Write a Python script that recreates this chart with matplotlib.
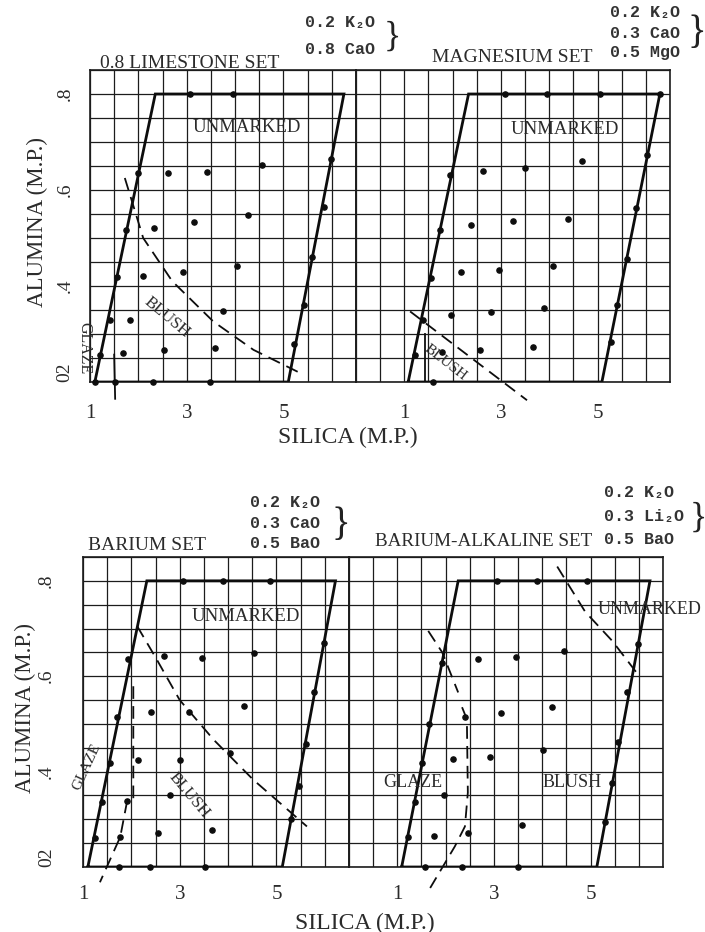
import matplotlib
matplotlib.use("Agg")
import matplotlib.pyplot as plt
import numpy as np

# axis ticks (silica / alumina, molecular parts)
silica_ticks = [1, 3, 5]
silica_labels = ["1", "3", "5"]
alumina_ticks = [0.2, 0.4, 0.6, 0.8]
alumina_labels = ["02", ".4", ".6", ".8"]

# 0.8 limestone set
lime_trap_x = [1.1, 2.35, 6.25, 5.1, 1.1]
lime_trap_y = [0.2, 0.8, 0.8, 0.2, 0.2]
lime_dots_x = [3.07, 3.96, 1.99, 1.75, 1.56, 1.41, 1.2, 1.1,
               2.62, 3.41, 4.55, 2.33, 3.16, 4.26, 2.09, 2.92, 4.04,
               1.83, 3.75, 1.69, 2.52, 3.59, 1.52, 2.31, 3.48,
               5.99, 5.83, 5.6, 5.42, 5.22]
lime_dots_y = [0.8, 0.8, 0.636, 0.516, 0.418, 0.33, 0.256, 0.2,
               0.636, 0.638, 0.653, 0.52, 0.533, 0.547, 0.421, 0.43, 0.442,
               0.33, 0.347, 0.26, 0.267, 0.27, 0.2, 0.2, 0.2,
               0.665, 0.565, 0.46, 0.36, 0.28]
lime_blush_x = [1.72, 2.1, 2.7, 3.55, 4.38, 5.42]
lime_blush_y = [0.625, 0.5, 0.41, 0.326, 0.267, 0.215]
lime_glaze_x = [1.5, 1.52]
lime_glaze_y = [0.257, 0.165]

# magnesium set
mag_trap_x = [1.08, 2.33, 6.29, 5.09, 1.08]
mag_trap_y = [0.2, 0.8, 0.8, 0.2, 0.2]
mag_dots_x = [3.08, 3.95, 5.05, 6.29, 1.95, 1.74, 1.55, 1.39, 1.22,
              2.63, 3.5, 4.68, 2.38, 3.25, 4.39, 2.17, 2.96, 4.08,
              1.97, 2.8, 3.89, 1.78, 2.57, 3.66, 1.6,
              6.03, 5.8, 5.6, 5.4, 5.27]
mag_dots_y = [0.8, 0.8, 0.8, 0.8, 0.632, 0.516, 0.417, 0.33, 0.256,
              0.64, 0.646, 0.66, 0.527, 0.535, 0.54, 0.43, 0.434, 0.442,
              0.34, 0.345, 0.354, 0.263, 0.266, 0.272, 0.2,
              0.672, 0.562, 0.457, 0.36, 0.284]
mag_blush_x = [1.12, 3.54]
mag_blush_y = [0.347, 0.162]
mag_glaze_x = [1.43, 1.43]
mag_glaze_y = [0.3, 0.2]

# barium set
bar_trap_x = [1.1, 2.32, 6.22, 5.12, 1.1]
bar_trap_y = [0.2, 0.8, 0.8, 0.2, 0.2]
bar_dots_x = [3.07, 3.9, 4.87, 1.93, 1.7, 1.56, 1.39, 1.25,
              2.68, 3.46, 4.54, 2.4, 3.19, 4.32, 2.13, 3.0, 4.04,
              1.92, 2.79, 1.77, 2.56, 3.66, 1.75, 2.39, 3.53,
              5.98, 5.77, 5.62, 5.46, 5.3]
bar_dots_y = [0.8, 0.8, 0.8, 0.636, 0.514, 0.419, 0.337, 0.26,
              0.642, 0.638, 0.648, 0.526, 0.526, 0.537, 0.425, 0.425, 0.438,
              0.339, 0.35, 0.263, 0.272, 0.278, 0.2, 0.2, 0.2,
              0.669, 0.566, 0.457, 0.369, 0.3]
bar_blush_x = [2.12, 2.52, 3.0, 3.7, 4.52, 5.63]
bar_blush_y = [0.705, 0.636, 0.55, 0.467, 0.383, 0.285]
bar_glaze_x = [2.04, 2.04, 1.91, 1.77, 1.35]
bar_glaze_y = [0.579, 0.341, 0.337, 0.263, 0.168]

# barium-alkaline set
alk_trap_x = [1.09, 2.26, 6.23, 5.13, 1.09]
alk_trap_y = [0.2, 0.8, 0.8, 0.2, 0.2]
alk_dots_x = [3.06, 3.89, 4.92, 1.93, 1.66, 1.51, 1.37, 1.22,
              2.67, 3.46, 4.45, 3.15, 4.2, 2.4, 2.15, 2.92, 4.02,
              1.97, 1.76, 2.46, 3.58, 1.57, 2.34, 3.5,
              5.98, 5.76, 5.57, 5.44, 5.3]
alk_dots_y = [0.8, 0.8, 0.8, 0.627, 0.499, 0.419, 0.337, 0.263,
              0.636, 0.64, 0.652, 0.522, 0.535, 0.514, 0.427, 0.431, 0.445,
              0.35, 0.265, 0.272, 0.288, 0.2, 0.2, 0.2,
              0.667, 0.566, 0.463, 0.377, 0.295]
alk_blush_x = [4.31, 4.89, 5.45, 5.98]
alk_blush_y = [0.83, 0.735, 0.674, 0.604]
alk_glaze1_x = [1.64, 1.93, 2.26]
alk_glaze1_y = [0.695, 0.65, 0.566]
alk_glaze2_x = [2.34, 2.44, 2.46, 2.4, 2.19, 1.68]
alk_glaze2_y = [0.535, 0.51, 0.356, 0.285, 0.243, 0.156]

W, H = 705, 932
ink = "#1c1c1c"
txt = "#2b2b2b"
serif = ["Liberation Serif", "DejaVu Serif"]
mono = ["Liberation Mono", "DejaVu Sans Mono"]

fig = plt.figure(figsize=(W / 100, H / 100), dpi=100)


def box(l, t, r, b):
    return [l / W, 1 - b / H, (r - l) / W, (b - t) / H]


def panel(rect, xmin, tx, ty, dx, dy, left, ypad, xpad):
    ax = fig.add_axes(rect)
    ax.set_xlim(xmin, 6.5)
    ax.set_ylim(0.2, 0.85)
    ax.set_xticks(silica_ticks)
    ax.set_xticklabels(silica_labels, fontsize=15, family=serif, color=txt)
    ax.set_xticks(np.arange(xmin, 6.51, 0.5), minor=True)
    ax.set_yticks(alumina_ticks)
    ax.set_yticks(np.arange(0.2, 0.851, 0.05), minor=True)
    if left:
        ax.set_yticklabels(alumina_labels, fontsize=14, family=serif,
                           color=txt, rotation=90, va="center")
        ax.get_yticklabels()[0].set_va("bottom")
    else:
        ax.set_yticklabels([])
    ax.tick_params(which="both", length=0)
    ax.tick_params(axis="y", pad=ypad)
    ax.tick_params(axis="x", pad=xpad)
    ax.grid(which="both", color=ink, lw=0.9)
    for s in ax.spines.values():
        s.set_linewidth(1.2)
        s.set_color(ink)
    ax.plot(tx, ty, color="#0d0d0d", lw=2.0, solid_joinstyle="miter", zorder=3)
    ax.scatter(dx, dy, s=14, color="#0d0d0d", zorder=4, clip_on=False)
    return ax


def dashed(ax, x, y):
    ax.plot(x, y, color="#0d0d0d", lw=1.3, ls=(0, (7, 4)), zorder=3, clip_on=False)


def label(ax, x, y, s, rot=0, size=13):
    ax.text(x, y, s, rotation=rot, ha="center", va="center", fontsize=size,
            family=serif, color=txt, clip_on=False, zorder=5)


a1 = panel(box(90, 70, 356, 382), 1.0, lime_trap_x, lime_trap_y,
           lime_dots_x, lime_dots_y, True, 12, 16)
a2 = panel(box(356, 70, 670, 382), 0.0, mag_trap_x, mag_trap_y,
           mag_dots_x, mag_dots_y, False, 12, 16)
a3 = panel(box(83, 557, 349, 867), 1.0, bar_trap_x, bar_trap_y,
           bar_dots_x, bar_dots_y, True, 20, 13)
a4 = panel(box(349, 557, 663, 867), 0.0, alk_trap_x, alk_trap_y,
           alk_dots_x, alk_dots_y, False, 20, 13)

dashed(a1, lime_blush_x, lime_blush_y)
a1.plot(lime_glaze_x, lime_glaze_y, color="#0d0d0d", lw=1.3, clip_on=False)
label(a1, 4.25, 0.73, "UNMARKED", size=13.5)
label(a1, 2.6, 0.335, "BLUSH", rot=-40, size=12)
label(a1, 0.88, 0.27, "GLAZE", rot=270, size=11.5)

dashed(a2, mag_blush_x, mag_blush_y)
a2.plot(mag_glaze_x, mag_glaze_y, color="#0d0d0d", lw=1.3)
label(a2, 4.33, 0.726, "UNMARKED", size=13.5)
label(a2, 1.86, 0.24, "BLUSH", rot=-38, size=11)

dashed(a3, bar_blush_x, bar_blush_y)
dashed(a3, bar_glaze_x, bar_glaze_y)
label(a3, 4.37, 0.726, "UNMARKED", size=13.5)
label(a3, 3.2, 0.35, "BLUSH", rot=-50, size=12)
label(a3, 1.08, 0.41, "GLAZE", rot=65, size=11)

dashed(a4, alk_blush_x, alk_blush_y)
dashed(a4, alk_glaze1_x, alk_glaze1_y)
dashed(a4, alk_glaze2_x, alk_glaze2_y)
label(a4, 6.23, 0.74, "UNMARKED", size=13)
label(a4, 4.62, 0.377, "BLUSH", size=13)
label(a4, 1.33, 0.377, "GLAZE", size=13)


def ftext(x, y, s, **kw):
    fig.text(x / W, 1 - y / H, s, **kw)


# axis titles
for x, y in [(37, 222), (25, 708)]:
    ftext(x, y, "ALUMINA (M.P.)", rotation=90, ha="center", va="center",
          fontsize=16.5, family=serif, color=txt)
for x, y in [(348, 437), (365, 923)]:
    ftext(x, y, "SILICA (M.P.)", ha="center", va="center",
          fontsize=17, family=serif, color=txt)

# set names
ftext(100, 63, "0.8 LIMESTONE SET", ha="left", va="center", fontsize=14, family=serif, color=txt)
ftext(432, 58, "MAGNESIUM SET", ha="left", va="center", fontsize=14, family=serif, color=txt)
ftext(88, 545, "BARIUM SET", ha="left", va="center", fontsize=14, family=serif, color=txt)
ftext(375, 542, "BARIUM-ALKALINE SET", ha="left", va="center", fontsize=13.8, family=serif, color=txt)

# flux formulas
formulas = [
    (305, [22, 50], ["0.2 K\u2082O", "0.8 CaO"], 392, 37, 26),
    (610, [13, 33, 53], ["0.2 K\u2082O", "0.3 CaO", "0.5 MgO"], 697, 33, 28),
    (250, [503, 523, 543], ["0.2 K\u2082O", "0.3 CaO", "0.5 BaO"], 341, 525, 28),
    (604, [493, 517, 540], ["0.2 K\u2082O", "0.3 Li\u2082O", "0.5 BaO"], 698, 518, 26),
]
for x0, ys, lines, bx, by, bs in formulas:
    for y, s in zip(ys, lines):
        ftext(x0, y, s, ha="left", va="center", fontsize=12, family=mono,
              weight="bold", color="#333333")
    ftext(bx, by, "}", ha="center", va="center", fontsize=bs, family=serif,
          color="#222222")

fig.savefig("out.png", dpi=100, facecolor="white")
